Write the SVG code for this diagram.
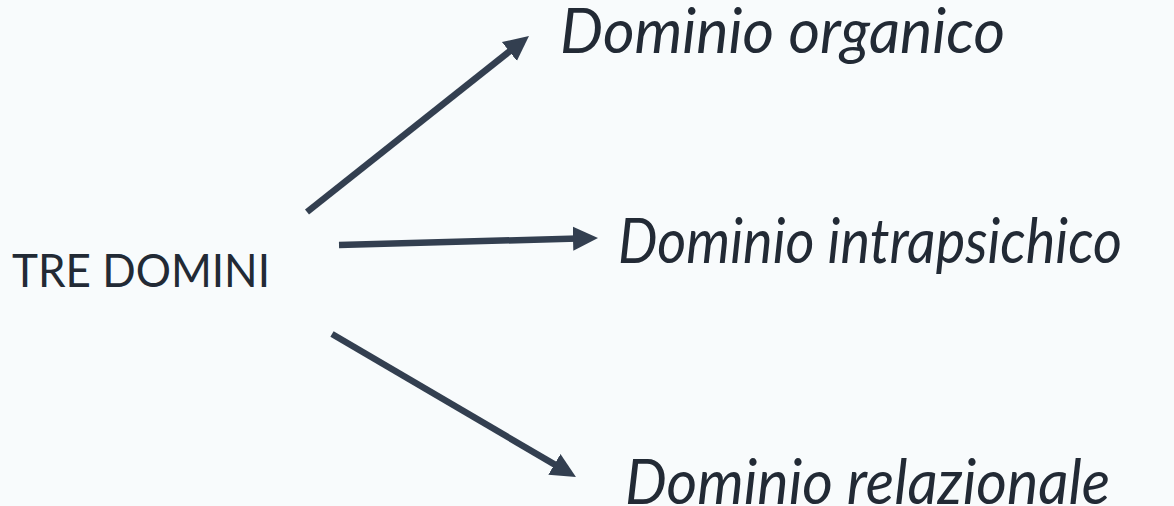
<svg xmlns="http://www.w3.org/2000/svg" width="1174" height="506" viewBox="0 0 1174 506">
<style>
.bg{fill:#F8FBFC}
.lbl{font-family:Lato,"Open Sans","Liberation Sans",sans-serif;fill:#222A35}
.main{font-size:47px}
.dom{font-size:62px;font-style:italic}
.conn{stroke:#333F50;stroke-width:6.5;fill:none;stroke-linecap:butt}
</style>
<defs>
<marker id="ah" markerUnits="userSpaceOnUse" markerWidth="26" markerHeight="26" refX="5" refY="13" orient="auto">
<path d="M0,1 L25,13 L0,25 z" fill="#333F50"/>
</marker>
</defs>
<rect class="bg" x="0" y="0" width="1174" height="506"/>
<g id="connectors">
<line class="conn" x1="307" y1="212" x2="513.3" y2="48.4" marker-end="url(#ah)"/>
<line class="conn" x1="339" y1="245" x2="578" y2="238.5" marker-end="url(#ah)"/>
<line class="conn" x1="332" y1="334" x2="558.7" y2="466.9" marker-end="url(#ah)"/>
</g>
<g id="tre-domini">
<text class="lbl main" x="12" y="287" textLength="258" lengthAdjust="spacingAndGlyphs">TRE DOMINI</text>
</g>
<g id="dominio-organico">
<text class="lbl dom" x="560" y="53" textLength="445" lengthAdjust="spacingAndGlyphs">Dominio organico</text>
</g>
<g id="dominio-intrapsichico">
<text class="lbl dom" x="618" y="263" textLength="504" lengthAdjust="spacingAndGlyphs">Dominio intrapsichico</text>
</g>
<g id="dominio-relazionale">
<text class="lbl dom" x="625" y="504" textLength="485" lengthAdjust="spacingAndGlyphs">Dominio relazionale</text>
</g>
</svg>
